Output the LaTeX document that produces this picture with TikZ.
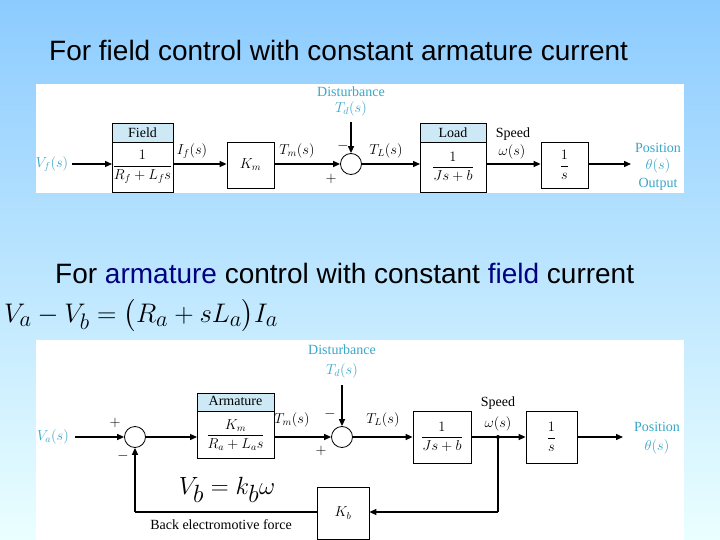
\documentclass[tikz,border=0pt]{standalone}
\usepackage{amsmath}
\usepackage{fontspec}
\setmainfont{Liberation Serif}
\newfontfamily\arialf{Liberation Sans}
\usetikzlibrary{arrows.meta}
\definecolor{lab}{HTML}{3AA6C8}
\definecolor{hdr}{HTML}{CDE9F6}
\begin{document}
\begin{tikzpicture}[x=1pt,y=-1pt,
  blk/.style={draw,line width=0.8pt,fill=white},
  hd/.style={draw,line width=0.8pt,fill=hdr},
  sig/.style={line width=1.3pt,-{Triangle[length=7pt,width=6pt]}},
  ln/.style={line width=1.3pt},
  sm/.style={draw,line width=0.8pt,circle,minimum size=21pt,inner sep=0pt,fill=white},
  tx/.style={font=\fontsize{14}{15}\selectfont,inner sep=0pt},
  lb/.style={tx,text=lab}]
\useasboundingbox (0,0) rectangle (720,540);
\shade[top color=cyan!55!blue!45!white,bottom color=cyan!8!white] (0,0) rectangle (720,540);
\node[font=\arialf\fontsize{28}{30}\selectfont,anchor=west,inner sep=0pt] (t1) at (49,50) {For field control with constant armature current};
\node[font=\arialf\fontsize{28}{30}\selectfont,anchor=west,inner sep=0pt] (t2) at (55,273) {For \textcolor{blue!50!black}{armature} control with constant \textcolor{blue!50!black}{field} current};
\node[font=\fontsize{28}{30}\selectfont,anchor=west,inner sep=0pt] (eq) at (4,316) {\scalebox{1.08}{$V_a-V_b=\bigl(R_a+sL_a\bigr)I_a$}};
% top panel
\fill[white] (36,84) rectangle (684,193);
\draw[blk] (112,142) rectangle (173,192);
\draw[hd] (112,123) rectangle (173,142);
\node[tx] (fh) at (142.5,132.5) {Field};
\node[tx] (f) at (142.5,167) {$\dfrac{1}{R_f+L_fs}$};
\coordinate (fl) at (112,164); \coordinate (fr) at (173,164);
\node[blk,minimum width=47pt,minimum height=46pt] (km) at (250.5,165) {};
\node[tx] at (km) {$K_m$};
\node[sm] (s1) at (351,164) {};
\draw[blk] (420,142) rectangle (486,192);
\draw[hd] (420,123) rectangle (486,142);
\node[tx] (lh) at (453,132.5) {Load};
\node[tx] (ld) at (453,167) {$\dfrac{1}{Js+b}$};
\coordinate (ll) at (420,164); \coordinate (lr) at (486,164);
\node[blk,minimum width=47pt,minimum height=46pt] (is) at (564.5,165) {};
\node[tx] at (is) {$\dfrac{1}{s}$};
\coordinate (in1) at (72,164); \coordinate (out1) at (631,164);
\node[lb] (vf) at (52,164) {$V_f(s)$};
\draw[sig] (in1) -- (fl);
\draw[sig] (fr) -- (km.west |- fr);
\draw[sig] (km.east |- s1) -- (s1);
\draw[sig] (s1) -- (ll);
\draw[sig] (lr) -- (is.west |- lr);
\draw[sig] (is.east |- lr) -- (out1);
\coordinate (d1) at (351,122);
\draw[sig] (d1) -- (s1);
\node[lb] (dist1) at (351,92) {Disturbance};
\node[lb] (td1) at (351,109) {$T_d(s)$};
\node[tx] at (192,151) {$I_f(s)$};
\node[tx] at (297,151) {$T_m(s)$};
\node[tx] at (386,151) {$T_L(s)$};
\node[tx] at (513,134) {Speed};
\node[tx] at (512,152) {$\omega(s)$};
\node[tx] at (343,146) {$-$};
\node[tx] at (331,179) {$+$};
\node[lb] at (658,148) {Position};
\node[lb] at (658,166) {$\theta(s)$};
\node[lb] at (658,184) {Output};
% bottom panel
\fill[white] (36,340) rectangle (684,540);
\node[sm] (a1) at (135,437) {};
\draw[blk] (197,411) rectangle (274,458);
\draw[hd] (197,393) rectangle (274,411);
\node[tx] at (235.5,401) {Armature};
\node[tx] (am) at (235.5,435) {$\dfrac{K_m}{R_a+L_as}$};
\coordinate (al) at (197,437); \coordinate (ar) at (274,437);
\node[sm] (a2) at (342,437) {};
\node[blk,minimum width=58pt,minimum height=52pt] (jb) at (442,437) {};
\node[tx] at (jb) {$\dfrac{1}{Js+b}$};
\node[blk,minimum width=51pt,minimum height=52pt] (ib) at (551.5,437) {};
\node[tx] at (ib) {$\dfrac{1}{s}$};
\node[blk,minimum width=52pt,minimum height=52pt] (kb) at (343,513) {};
\node[tx] at (kb) {$K_b$};
\coordinate (in2) at (75,437); \coordinate (out2) at (623,437);
\coordinate (j) at (498,437); \coordinate (jd) at (498,512); \coordinate (fbl) at (135,512);
\node[lb] at (53,437) {$V_a(s)$};
\draw[sig] (in2) -- (a1);
\draw[sig] (a1) -- (al);
\draw[sig] (ar) -- (a2);
\draw[sig] (a2) -- (jb);
\draw[sig] (jb) -- (ib);
\draw[sig] (ib) -- (out2);
\fill (j) circle (2pt);
\draw[ln] (j) -- (jd);
\draw[sig] (jd) -- (kb.east |- jd);
\draw[ln] (kb.west |- jd) -- (fbl);
\draw[sig] (fbl) -- (a1);
\coordinate (d2) at (342,385);
\draw[sig] (d2) -- (a2);
\node[lb] at (342,350) {Disturbance};
\node[lb] at (342,371) {$T_d(s)$};
\node[tx] at (292,420) {$T_m(s)$};
\node[tx] at (383,420) {$T_L(s)$};
\node[tx] at (498,403) {Speed};
\node[tx] at (498,424) {$\omega(s)$};
\node[tx] at (115,423) {$+$};
\node[tx] at (123,456) {$-$};
\node[tx] at (330,414) {$-$};
\node[tx] at (321,451) {$+$};
\node[lb] at (657,427) {Position};
\node[lb] at (657,447) {$\theta(s)$};
\node[font=\fontsize{34}{36}\selectfont,inner sep=0pt] at (227,490) {$V_b=k_b\omega$};
\node[tx] at (221,525) {Back electromotive force};
\end{tikzpicture}
\end{document}
